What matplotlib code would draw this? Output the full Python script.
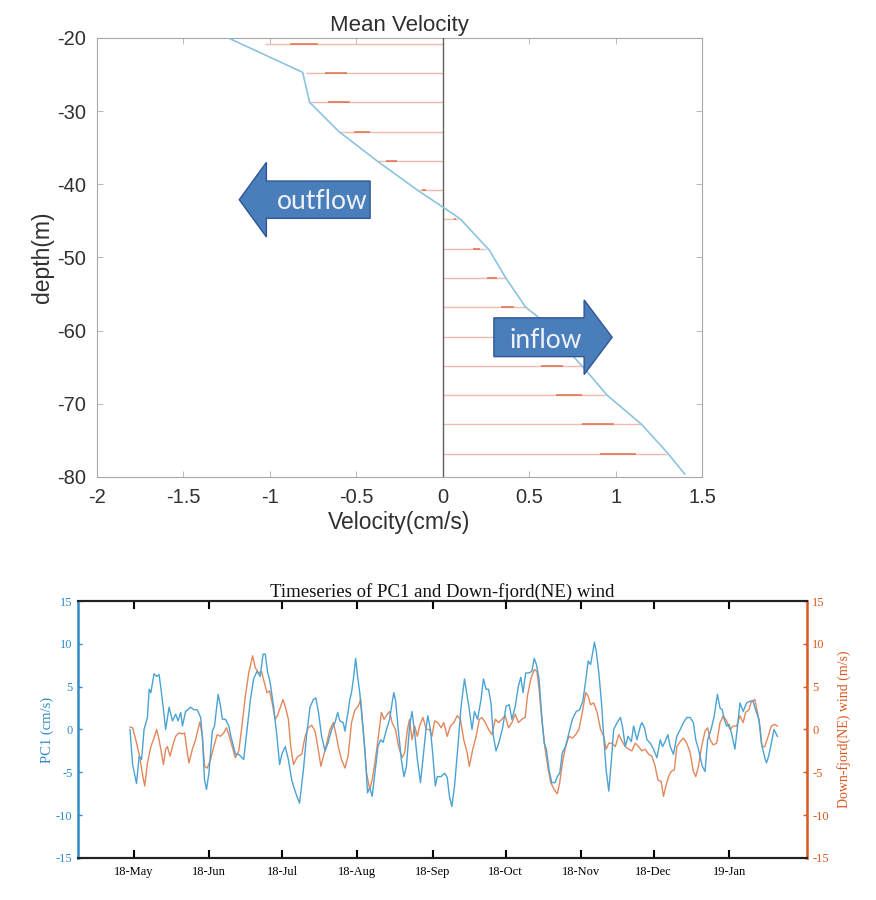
import numpy as np
import pandas as pd
import matplotlib
matplotlib.use('Agg')
import matplotlib.pyplot as plt
import matplotlib.dates as mdates
from matplotlib.patches import FancyArrow

# mean velocity profile (cm/s) against depth (m)
profile_depth = [-20, -24.7, -28.8, -32.8, -36.8, -40.9, -43.1, -44.7, -49.0,
                 -52.8, -56.8, -58.1, -65.6, -68.8, -72.8, -76.7, -79.6]
profile_vel = [-1.24, -0.81, -0.77, -0.60, -0.38, -0.14, 0.0, 0.10, 0.27,
               0.365, 0.48, 0.55, 0.835, 0.95, 1.15, 1.30, 1.40]

# quiver arrows of the profile, one every 4 m
quiver_depth = [-20.8, -24.8, -28.8, -32.8, -36.8, -40.8, -44.8, -48.8,
                -52.8, -56.8, -60.8, -64.8, -68.8, -72.8, -76.8]
quiver_vel = [-1.03, -0.79, -0.77, -0.60, -0.38, -0.14, 0.09, 0.25,
              0.365, 0.48, 0.59, 0.81, 0.94, 1.15, 1.30]

# PC1 (cm/s), days after 2018-05-01
pc1_days = [-1.6, -0.5, 1.1, 2.2, 3.2, 4.2, 5.6, 6.3, 7.0, 8.3, 9.4, 10.4, 11.1, 12.2, 13.1, 14.5,
            15.9, 17.2, 18.2, 19.3, 20.0, 21.3, 23.4, 24.7, 26.1, 27.5, 28.2, 29.1, 29.9, 30.9, 32.3,
            33.2, 34.7, 35.7, 36.4, 37.7, 39.1, 39.8, 41.8, 43.2, 45.2, 46.6, 48.0, 49.3, 50.7, 52.0,
            53.2, 54.1, 55.0, 56.1, 57.5, 58.9, 60.0, 60.9, 62.3, 63.6, 65.0, 65.7, 67.1, 68.2, 69.8,
            71.2, 72.5, 73.9, 74.9, 76.0, 77.3, 78.7, 80.0, 81.4, 82.8, 83.9, 84.8, 86.2, 86.9, 88.2,
            88.9, 89.6, 90.5, 91.3, 92.1, 93.0, 93.7, 95.1, 96.2, 97.1, 98.1, 99.2, 100.5, 101.6,
            102.6, 104.0, 105.3, 106.3, 107.0, 107.8, 108.7, 110.1, 111.2, 112.2, 113.5, 114.5,
            115.6, 116.7, 118.0, 119.4, 120.4, 121.0, 122.1, 123.1, 124.1, 124.9, 126.5, 127.9,
            129.0, 129.9, 130.9, 132.0, 133.3, 134.7, 136.1, 137.2, 138.1, 139.2, 140.2, 141.5,
            142.9, 143.9, 145.0, 146.0, 147.0, 148.0, 149.1, 150.4, 151.8, 153.2, 154.5, 155.6,
            157.0, 158.3, 159.3, 160.2, 161.3, 162.7, 163.8, 164.8, 165.7, 166.8, 167.9, 168.9,
            169.8, 170.9, 172.0, 173.4, 174.3, 175.3, 176.4, 177.7, 179.1, 180.5, 182.1, 183.5,
            184.8, 185.9, 187.0, 188.0, 188.9, 189.6, 190.4, 191.4, 192.5, 193.4, 194.4, 195.5,
            196.6, 197.5, 198.9, 200.3, 201.2, 202.3, 203.4, 204.8, 205.7, 207.1, 208.5, 209.1,
            210.2, 211.2, 212.6, 213.9, 215.3, 216.7, 217.6, 218.7, 219.8, 220.8, 222.1, 223.5,
            224.9, 226.2, 227.6, 229.0, 230.3, 231.3, 232.4, 234.0, 235.1, 236.2, 237.6, 238.9,
            240.2, 241.3, 242.2, 243.0, 244.0, 245.0, 246.0, 247.4, 248.5, 249.5, 250.8, 252.2,
            253.6, 254.9, 255.9, 257.3, 258.3, 259.7, 260.4, 261.3, 262.4, 263.5, 264.9]
pc1 = [0.0, -4.1, -6.3, -3.1, -3.5, 0.0, 1.4, 4.7, 4.3, 6.5, 6.2, 6.4, 4.9, 2.3, 0.0, 2.6,
       1.0, 1.8, 1.0, 2.0, 0.4, 2.1, 2.6, 2.3, 2.3, 1.4, -0.8, -5.9, -7.0, -5.1, -0.2,
       0.4, 4.1, 2.7, 1.2, 1.2, 0.4, -0.6, -2.9, -2.9, -3.5, 0.0, 3.5, 5.9, 6.8, 6.2,
       8.8, 8.8, 6.8, 5.5, 2.7, -0.8, -4.1, -2.9, -2.0, -3.5, -5.9, -6.6, -7.8, -8.6, -4.7,
       -0.4, 2.6, 3.5, 3.7, 2.0, -0.8, -2.5, -1.5, 0.0, 0.8, 2.0, 1.0, 0.8, -0.2, 2.1,
       3.5, 4.3, 6.2, 8.3, 6.2, 4.3, 2.0, -2.3, -7.4, -6.8, -7.8, -5.1, -2.0, -1.2,
       -1.5, 0.0, 1.2, 3.1, 4.3, 3.3, 0.4, -3.5, -5.5, -4.3, 0.4, 2.1,
       -0.4, -3.5, -6.2, -2.3, 0.4, 1.6, 0.0, -3.1, -6.6, -5.5, -5.5, -5.1,
       -5.6, -7.8, -9.0, -6.6, -2.3, 2.7, 5.9, 3.9, 2.3, 0.0, 2.1, 1.2,
       3.5, 5.9, 4.7, 4.7, 3.1, -0.8, -2.5, -1.4, 0.2, 2.7, 2.9, 1.2,
       2.7, 5.1, 6.1, 4.3, 6.6, 6.6, 6.8, 8.3, 7.6, 5.9, 1.6, -1.6,
       -2.3, -4.7, -6.2, -6.2, -5.5, -5.1, -2.7, -2.0, -0.4, 1.2, 2.1, 2.3,
       3.3, 5.5, 8.0, 7.6, 9.0, 10.2, 9.0, 6.6, 3.1, -0.8, -4.7, -7.2,
       -3.5, 0.0, 0.8, 1.4, 0.2, -2.0, -0.8, -1.4, 0.4, -1.2, 0.4, 0.8,
       0.2, -1.2, -1.6, -2.3, -3.3, -1.2, -2.0, -1.4, -0.6, -2.0, -2.9, -0.8,
       0.0, 0.8, 1.4, 1.4, 0.8, -1.2, -2.3, -4.3, -4.9, -1.2, 0.0, 1.6,
       4.1, 2.5, 2.3, 1.2, 0.4, 0.6, -0.4, -2.3, 0.4, 3.1, 2.1, 3.1,
       3.3, 3.3, 2.3, 1.2, -1.6, -3.3, -3.9, -3.1, -1.6, 0.0, -0.8]

# down-fjord (NE) wind (m/s), days after 2018-05-01
wind_days = [-1.6, -0.5, 0.8, 2.2, 3.6, 4.5, 5.6, 7.0, 8.3, 9.4, 10.4, 11.1, 12.2, 13.1, 13.8,
             14.9, 16.3, 17.2, 18.6, 20.0, 20.9, 22.0, 22.7, 24.1, 25.4, 26.4, 27.2, 28.2, 29.1,
             30.2, 31.6, 32.9, 34.3, 35.7, 37.0, 38.1, 39.1, 40.5, 41.8, 43.2, 44.5, 45.9, 47.3,
             48.9, 50.0, 51.4, 52.5, 53.7, 54.8, 55.9, 56.8, 58.2, 59.1, 60.2, 61.4, 62.3, 63.6,
             64.6, 65.7, 67.1, 67.8, 69.1, 70.5, 71.8, 73.2, 74.6, 75.7, 77.0, 78.4, 79.4, 80.7,
             82.1, 83.1, 84.4, 85.5, 86.9, 88.2, 89.6, 91.0, 92.3, 93.4, 94.4, 95.8, 97.1, 98.1,
             99.2, 100.5, 101.9, 103.0, 104.4, 105.3, 106.3, 107.7, 109.0, 110.4, 111.5, 112.6,
             113.5, 114.5, 115.6, 116.7, 117.6, 119.0, 120.4, 121.7, 122.7, 123.8, 125.1, 126.5,
             127.6, 129.0, 130.3, 131.7, 133.1, 134.4, 135.8, 137.2, 138.1, 139.5, 140.9, 142.2,
             143.3, 144.7, 146.0, 147.4, 148.8, 150.1, 151.5, 152.9, 154.2, 155.6, 157.0, 158.3,
             159.7, 161.1, 162.0, 163.4, 164.8, 165.9, 166.8, 167.9, 169.3, 170.6, 171.6, 173.0,
             174.3, 175.3, 176.4, 177.7, 179.1, 180.5, 181.9, 183.2, 184.6, 186.0, 187.0, 188.0,
             189.3, 190.7, 192.1, 193.4, 194.4, 195.5, 196.8, 198.2, 199.6, 201.0, 202.3, 203.7,
             205.0, 206.4, 207.8, 209.1, 210.5, 211.9, 213.2, 214.6, 215.7, 217.1, 218.0, 219.0,
             220.1, 221.2, 222.5, 223.5, 224.9, 226.2, 227.6, 229.0, 230.3, 231.3, 232.4, 233.7,
             235.1, 236.2, 237.2, 238.5, 239.9, 241.3, 242.6, 244.0, 245.4, 246.7, 248.1, 249.5,
             250.8, 251.8, 253.2, 254.2, 255.6, 256.7, 257.7, 258.6, 259.7, 261.1, 262.4, 263.8,
             264.9]
wind = [0.3, 0.2, -1.2, -2.9, -5.3, -6.6, -3.9, -2.0, -1.0, 0.0, -1.2, -2.3, -4.1, -2.3, -2.0,
        -3.1, -1.6, -0.8, -0.4, -0.5, -0.4, -2.7, -3.9, -2.3, -1.2, 0.0, 0.9, -0.8, -4.3,
        -4.5, -3.5, -2.0, -0.6, -0.8, -0.4, 0.2, -0.6, -2.0, -3.3, -2.5, 0.4, 3.9, 6.6,
        8.6, 7.2, 6.6, 6.8, 5.5, 4.3, 4.5, 3.3, 1.2, 1.6, 2.5, 3.5, 2.7, 1.2,
        -2.0, -4.1, -3.3, -3.1, -2.9, -0.8, 0.2, 0.5, -0.2, -2.0, -4.3, -2.7, -1.6, 0.0,
        0.8, -0.4, -2.3, -3.5, -4.5, -3.1, 0.8, 2.3, 2.7, 3.5, 0.0, -5.1, -7.0, -5.9,
        -3.9, -1.2, 2.0, 1.2, 1.8, 2.1, 0.8, 0.0, -2.0, -3.3, -2.7, 0.0,
        1.2, -1.2, 0.4, -0.8, 0.4, 1.4, 0.0, 0.0, -0.8, 1.0, 0.8, 0.2,
        0.8, -0.8, 0.4, 0.8, 1.6, 1.2, -1.2, -2.7, -4.3, -2.3, -0.8, 1.2,
        1.4, 0.8, 0.0, -0.6, 1.2, 0.8, 1.2, 1.6, 0.2, 0.8, 1.8, 0.8,
        1.2, 1.4, 3.9, 5.9, 7.0, 6.8, 4.7, 1.2, -2.3, -4.7, -6.2, -7.0,
        -7.5, -6.2, -3.9, -2.0, -0.8, -1.0, -0.6, 0.0, 2.0, 4.3, 3.9, 2.9,
        3.1, 2.0, 0.0, -0.8, -2.3, -1.6, -1.6, -2.0, -0.6, -1.4, -2.0, -2.3,
        -2.5, -1.6, -2.0, -2.5, -2.3, -2.9, -3.1, -4.3, -5.9, -6.1, -7.8, -6.6,
        -5.5, -4.9, -4.7, -2.0, -1.4, -1.0, -1.6, -2.7, -4.9, -5.5, -4.3, -2.0,
        -0.2, 0.2, -1.2, -1.8, -1.6, 0.8, 1.6, 1.0, 0.0, 0.4, 0.4, 1.6,
        0.8, 2.0, 2.3, 3.3, 3.5, 2.0, 0.4, -2.0, -2.0, -0.8, 0.4, 0.6,
        0.4]

# month ticks of the timeseries
month_ticks = ['2018-05-01', '2018-06-01', '2018-07-01', '2018-08-01', '2018-09-01',
               '2018-10-01', '2018-11-01', '2018-12-01', '2019-01-01']

plt.rcParams['axes.unicode_minus'] = False

fig = plt.figure(figsize=(8.76, 9), dpi=100)

# ---------------- top: mean velocity profile ----------------
ax = fig.add_axes([0.1107, 0.47, 0.6907, 0.4878])
sans = 'Liberation Sans'

qv = np.array(quiver_vel)
ax.hlines(quiver_depth, 0, qv, color='#f0bcae', lw=1.0, zorder=2)
ax.hlines(quiver_depth, 0.70 * qv, 0.86 * qv, color='#e0704f', lw=1.1, zorder=2)
ax.axvline(0, color='#606060', lw=1.0, zorder=3)
ax.plot(profile_vel, profile_depth, color='#8cc3e0', lw=1.2, zorder=3)

# block arrows
ax.add_patch(FancyArrow(-0.42, -42.1, -0.757, 0, width=5.1, head_width=10.2,
                        head_length=0.157, length_includes_head=True,
                        fc='#4a7ebb', ec='#2f5597', lw=1.0, zorder=5))
ax.text(-0.695, -42.3, 'outflow', color='#eef3fb', fontsize=19, family='Lato',
        ha='center', va='center', zorder=6)
ax.add_patch(FancyArrow(0.296, -60.9, 0.684, 0, width=5.3, head_width=10.2,
                        head_length=0.162, length_includes_head=True,
                        fc='#4a7ebb', ec='#2f5597', lw=1.0, zorder=5))
ax.text(0.595, -61.3, 'inflow', color='#eef3fb', fontsize=19, family='Lato',
        ha='center', va='center', zorder=6)

ax.set_xlim(-2, 1.5)
ax.set_ylim(-80, -20)
ax.set_xticks(np.arange(-2, 1.51, 0.5))
ax.set_xticklabels(['%g' % t for t in np.arange(-2, 1.51, 0.5)])
ax.set_yticks(np.arange(-80, -19, 10))
ax.tick_params(direction='in', length=4, width=0.6, color='#b0b0b0',
               top=True, right=True, labelsize=14.5, labelcolor='#303030', pad=8)
for lab in ax.get_xticklabels() + ax.get_yticklabels():
    lab.set_family(sans)
for s in ax.spines.values():
    s.set_color('#a8a8a8')
    s.set_linewidth(0.8)
ax.set_xlabel('Velocity(cm/s)', fontsize=16.5, family=sans, color='#303030', labelpad=3)
ax.set_ylabel('depth(m)', fontsize=16.5, family=sans, color='#303030', labelpad=2)
ax.set_title('Mean Velocity', fontsize=16, family=sans, color='#303030', pad=5)

# ---------------- bottom: timeseries ----------------
serif = 'Liberation Serif'
blue_ax = '#2e8bc6'
blue_ln = '#4aa3d4'
orange_ax = '#d9581f'
orange_ln = '#e3875c'

start = pd.Timestamp('2018-05-01')
pc1_t = start + pd.to_timedelta(pc1_days, unit='D')
wind_t = start + pd.to_timedelta(wind_days, unit='D')

ax2 = fig.add_axes([0.089, 0.0467, 0.832, 0.2855])
ax3 = ax2.twinx()
ax3.plot(wind_t, wind, color=orange_ln, lw=1.0)
ax2.plot(pc1_t, pc1, color=blue_ln, lw=1.0)
ax2.set_zorder(ax3.get_zorder() + 1)
ax2.patch.set_visible(False)

ax2.set_xlim(pd.Timestamp('2018-04-08'), pd.Timestamp('2019-02-02'))
for a in (ax2, ax3):
    a.set_ylim(-15, 15)
    a.set_yticks(np.arange(-15, 16, 5))

ax2.set_xticks(pd.to_datetime(month_ticks))
ax2.xaxis.set_major_formatter(mdates.DateFormatter('%y-%b'))
ax2.tick_params(axis='x', direction='in', length=6, width=1.5, top=True,
                labelsize=9, pad=6)
ax2.tick_params(axis='y', direction='in', length=3, width=1, color=blue_ax,
                labelcolor=blue_ax, labelsize=9, pad=4)
ax3.tick_params(axis='y', direction='in', length=3, width=1, color=orange_ax,
                labelcolor=orange_ax, labelsize=9, pad=4)
for lab in ax2.get_xticklabels() + ax2.get_yticklabels() + ax3.get_yticklabels():
    lab.set_family(serif)

for a in (ax2, ax3):
    a.spines['top'].set_color('#222222')
    a.spines['bottom'].set_color('#222222')
    a.spines['top'].set_linewidth(1.5)
    a.spines['bottom'].set_linewidth(1.5)
ax2.spines['left'].set_color(blue_ax)
ax2.spines['left'].set_linewidth(1.8)
ax3.spines['right'].set_color(orange_ax)
ax3.spines['right'].set_linewidth(1.8)
ax3.spines['left'].set_visible(False)
ax2.spines['right'].set_visible(False)

ax2.set_ylabel('PC1 (cm/s)', fontsize=10.5, family=serif, color=blue_ax, labelpad=1)
ax3.set_ylabel('Down-fjord(NE) wind (m/s)', fontsize=10, family=serif, color=orange_ax,
               labelpad=6)
ax2.set_title('Timeseries of PC1 and Down-fjord(NE) wind', fontsize=13.5, family=serif,
              color='#111111', pad=3)

fig.savefig('out.png', dpi=100)
